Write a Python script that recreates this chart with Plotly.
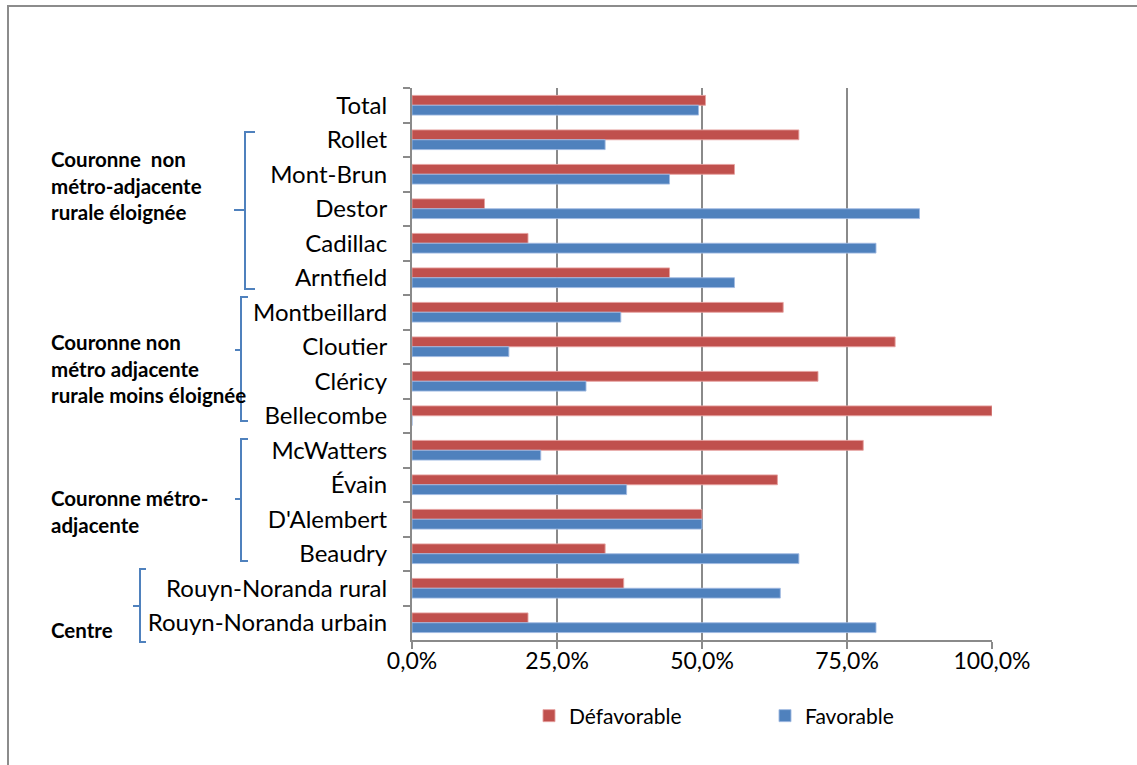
import plotly.graph_objects as go

# ---- data (top to bottom) ----
categories = ["Total", "Rollet", "Mont-Brun", "Destor", "Cadillac", "Arntfield",
              "Montbeillard", "Cloutier", "Cléricy", "Bellecombe",
              "McWatters", "Évain", "D'Alembert", "Beaudry",
              "Rouyn-Noranda rural", "Rouyn-Noranda urbain"]
defavorable = [0.506, 0.667, 0.556, 0.125, 0.200, 0.444,
               0.640, 0.833, 0.700, 1.000,
               0.778, 0.630, 0.500, 0.333,
               0.365, 0.200]
favorable = [0.494, 0.333, 0.444, 0.875, 0.800, 0.556,
             0.360, 0.167, 0.300, 0.000,
             0.222, 0.370, 0.500, 0.667,
             0.635, 0.800]
x_ticks = [0, 0.25, 0.5, 0.75, 1.0]
group_labels = ["Couronne\u00a0\u00a0non<br>métro-adjacente<br>rurale éloignée",
                "Couronne non<br>métro adjacente<br>rurale moins éloignée",
                "Couronne métro-<br>adjacente",
                "Centre"]

RED = "#C0504D"
BLUE = "#4F81BD"
GRID = "#8a8a8a"
FONT = "Lato"

W, H = 1137, 765
L, R, T, B = 412, 992, 88, 640


def px(x):
    return (x - L) / (R - L)


def py(y):
    return (B - y) / (B - T)


fig = go.Figure()
fig.add_trace(go.Bar(
    y=categories, x=defavorable, orientation="h", name="Défavorable",
    marker=dict(color=RED, line=dict(color="rgba(230,160,158,0.9)", width=1)),
))
fig.add_trace(go.Bar(
    y=categories, x=favorable, orientation="h", name="Favorable",
    marker=dict(color=BLUE, line=dict(color="rgba(160,185,225,0.9)", width=1)),
))

shapes = []
# outer chart border
shapes.append(dict(type="rect", xref="paper", yref="paper",
                   x0=px(8), x1=px(1160), y0=py(6), y1=py(790),
                   line=dict(color="#8c8c8c", width=2), layer="below"))


def brace(xv, top, bottom, mid, hook, nub):
    path = (f"M{px(xv + hook)},{py(top)} L{px(xv)},{py(top)} "
            f"L{px(xv)},{py(bottom)} L{px(xv + hook)},{py(bottom)} "
            f"M{px(xv - nub)},{py(mid)} L{px(xv)},{py(mid)}")
    return dict(type="path", xref="paper", yref="paper", path=path,
                line=dict(color=BLUE, width=2))


shapes.append(brace(245, 132, 289, 210, 10, 11))
shapes.append(brace(241, 297, 421, 350, 7, 6))
shapes.append(brace(241, 439, 561, 499, 7, 6))
shapes.append(brace(140, 569, 642, 606, 6, 7))

annotations = []
for text, yc in zip(group_labels, [185, 368, 511.5, 630]):
    annotations.append(dict(text=text, xref="paper", yref="paper",
                            x=px(49), y=py(yc), xanchor="left", yanchor="middle",
                            align="left", showarrow=False,
                            font=dict(family=FONT, size=20.5, color="black", weight="bold")))

fig.update_layout(
    width=W, height=H,
    margin=dict(l=L, r=W - R, t=T, b=H - B, pad=0),
    paper_bgcolor="white", plot_bgcolor="white",
    barmode="group", bargap=0.43, bargroupgap=0.0,
    separators=", ",
    font=dict(family=FONT, size=22, color="black"),
    shapes=shapes, annotations=annotations,
    showlegend=True,
    legend=dict(orientation="h", x=px(529), xanchor="left", y=py(716), yanchor="middle",
                font=dict(family=FONT, size=21, color="black"),
                entrywidth=191, entrywidthmode="pixels",
                bgcolor="rgba(0,0,0,0)"),
)
fig.update_xaxes(
    range=[0, 1], tickvals=x_ticks, tickformat=".1%",
    showgrid=True, gridcolor=GRID, gridwidth=1.5,
    showline=True, linecolor=GRID, linewidth=2,
    ticks="outside", ticklen=7, tickcolor=GRID, tickwidth=2,
    zeroline=False, ticklabelstandoff=-8,
    tickfont=dict(family=FONT, size=23, color="black"),
    fixedrange=True,
)
fig.update_yaxes(
    type="category", range=[len(categories) - 0.5, -0.5],
    showgrid=False, zeroline=False,
    showline=True, linecolor=GRID, linewidth=2,
    ticks="outside", tickson="boundaries", ticklen=7, tickcolor=GRID, tickwidth=2,
    ticklabelstandoff=18,
    tickfont=dict(family=FONT, size=24, color="black"),
    fixedrange=True,
)

fig.write_html("out.html")
